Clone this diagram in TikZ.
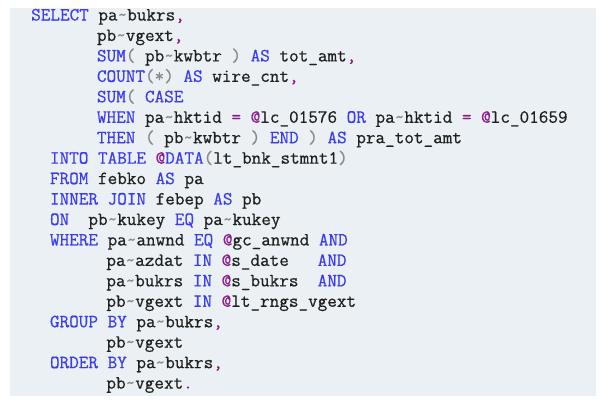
\documentclass[tikz,border=0pt]{standalone}
\usepackage{fontspec}
\setmonofont{Latin Modern Mono}[FakeBold=0.6]
\definecolor{bgc}{HTML}{EAF0F3}
\definecolor{kwc}{HTML}{3C3CF0}
\definecolor{puc}{HTML}{8B1A8B}
\definecolor{grc}{HTML}{8A8A8A}
\definecolor{txc}{HTML}{202020}
\newcommand{\kw}[1]{\textcolor{kwc}{#1}}
\newcommand{\pu}[1]{\textcolor{puc}{#1}}
\newcommand{\gr}[1]{\textcolor{grc}{#1}}
\newcommand{\tl}{\gr{\textasciitilde}}
\begin{document}
\begin{tikzpicture}[x=1bp,y=-1bp,
  codeline/.style={anchor=base west,inner sep=0pt,font=\fontsize{18.65bp}{19bp}\ttfamily,text=txc}]
\useasboundingbox (0,0) rectangle (612,400);
\fill[bgc] (10,8) rectangle (596,396);
\def\cw{9.4}
\def\ln{20.45}
\foreach \c/\r/\t [count=\i] in {
 0/0/{\kw{SELECT} pa\tl bukrs\pu{,}},
 7/1/{pb\tl vgext\pu{,}},
 7/2/{\kw{SUM}\gr{(} pb\tl kwbtr \gr{)} \kw{AS} tot\_amt\pu{,}},
 7/3/{\kw{COUNT}\gr{(*)} \kw{AS} wire\_cnt\pu{,}},
 7/4/{\kw{SUM}\gr{(} \kw{CASE}},
 7/5/{\kw{WHEN} pa\tl hktid \pu{=} \pu{@}lc\_01576 \kw{OR} pa\tl hktid \pu{=} \pu{@}lc\_01659},
 7/6/{\kw{THEN} \gr{(} pb\tl kwbtr \gr{)} \kw{END} \gr{)} \kw{AS} pra\_tot\_amt},
 2/7/{\kw{INTO} \kw{TABLE} \pu{@}\kw{DATA}\gr{(}lt\_bnk\_stmnt1\gr{)}},
 2/8/{\kw{FROM} febko \kw{AS} pa},
 2/9/{\kw{INNER} \kw{JOIN} febep \kw{AS} pb},
 2/10/{\kw{ON}\ \ pb\tl kukey \kw{EQ} pa\tl kukey},
 2/11/{\kw{WHERE} pa\tl anwnd \kw{EQ} \pu{@}gc\_anwnd \kw{AND}},
 8/12/{pa\tl azdat \kw{IN} \pu{@}s\_date\ \ \ \kw{AND}},
 8/13/{pa\tl bukrs \kw{IN} \pu{@}s\_bukrs\ \ \kw{AND}},
 8/14/{pb\tl vgext \kw{IN} \pu{@}lt\_rngs\_vgext},
 2/15/{\kw{GROUP} \kw{BY} pa\tl bukrs\pu{,}},
 8/16/{pb\tl vgext},
 2/17/{\kw{ORDER} \kw{BY} pa\tl bukrs\pu{,}},
 8/18/{pb\tl vgext\pu{.}}}
 \node[codeline] (l\i) at ({31+\c*\cw},{20.5+\r*\ln}) {\t};
\end{tikzpicture}
\end{document}
